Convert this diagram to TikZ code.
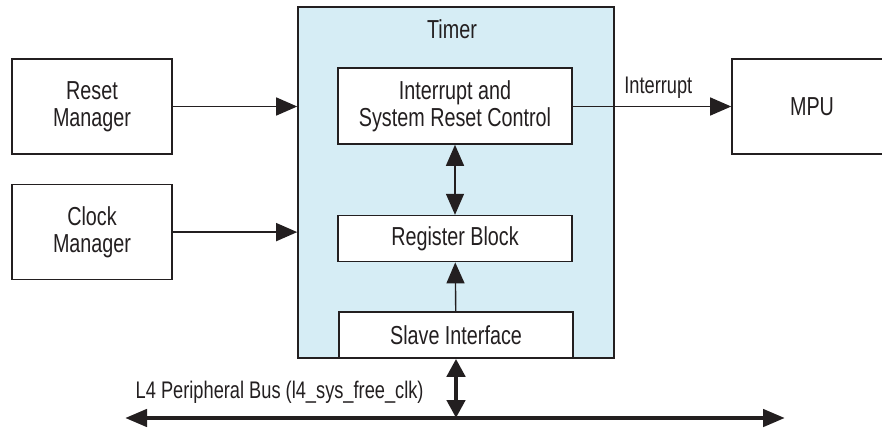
\documentclass[tikz,border=0pt]{standalone}
\usepackage{fontspec}
\setmainfont{Liberation Sans}[FakeStretch=0.76]
\usepackage{tikz}
\usetikzlibrary{arrows.meta,positioning}
\definecolor{linegray}{RGB}{35,31,32}
\definecolor{timerblue}{RGB}{214,237,245}

\begin{document}
\begin{tikzpicture}[x=1pt,y=-1pt,>={Triangle[length=21pt,width=18pt]},
  color=linegray,line width=1.4pt,
  block/.style={draw=linegray,fill=white,line width=1.6pt,align=center,
  font=\fontsize{26}{27}\selectfont,minimum width=160pt,minimum height=95pt,inner sep=0pt},
  part/.style={block,minimum width=234pt,minimum height=46pt},
  tag/.style={font=\fontsize{24}{26}\selectfont,inner sep=0pt},
  bus/.style={line width=4.5pt,>={Triangle[length=22pt,width=17pt]}}]
\useasboundingbox (0,0) rectangle (882,428);
% outer blocks
\node[block] (reset) at (92,106.5) {Reset\\Manager};
\node[block,below=29pt of reset] (clock) {Clock\\Manager};
\node[block] (mpu) at (812,106.5) {MPU};
% timer and its parts
\node[block,fill=timerblue,minimum width=316pt,minimum height=351pt] (timer) at (456,182.5) {};
\node[font=\fontsize{26}{27}\selectfont,anchor=base,inner sep=0pt] (ttitle) at (452,38) {Timer};
\node[part,minimum height=76pt] (intr) at (455,106) {Interrupt and\\System Reset Control};
\node[part,below=70pt of intr] (reg) {Register Block};
\node[part,anchor=south] (slave) at (timer.south) {Slave Interface};
% bus
\coordinate (busL) at (125,418);
\coordinate (busR) at (785,418);
\node[tag,anchor=base west] (busname) at (135,398) {L4 Peripheral Bus (l4\_sys\_free\_clk)};
\draw[->] (reset) -- (reset -| timer.west);
\draw[->] (clock) -- (clock -| timer.west);
\draw[->] (intr.east |- mpu) -- node[tag,above=7pt,pos=0.54] (intrlabel) {Interrupt} (mpu);
\draw[<->] (intr) -- (reg);
\draw[->] (slave) -- (reg);
\draw[bus,<->] (busL) -- (busR);
\draw[bus,<->,>={Triangle[length=18pt,width=18pt]}] (slave.south) -- (slave.south |- busL);
\end{tikzpicture}
\end{document}
